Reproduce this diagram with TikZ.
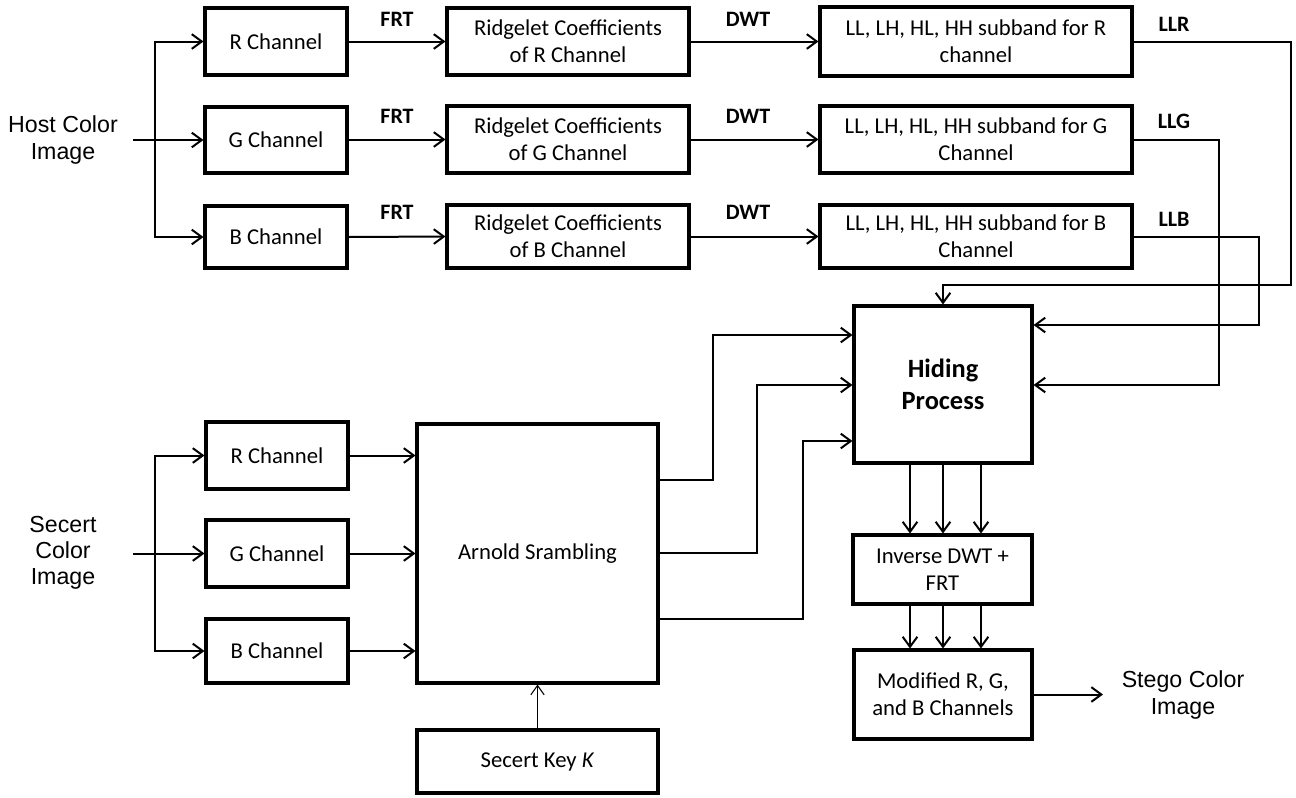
\documentclass[tikz,border=0pt]{standalone}
\usepackage{fontspec}
\setmainfont{Carlito}
\newfontfamily\arialf{Liberation Sans}
\usetikzlibrary{arrows.meta}
\begin{document}
\begin{tikzpicture}[x=0.75pt,y=-0.75pt,
  box/.style={draw,line width=2.3pt,inner sep=0pt,align=center,font=\fontsize{17}{20.25}\selectfont},
  sz/.style 2 args={minimum width=#1*0.75pt,minimum height=#2*0.75pt},
  conn/.style={line width=1.5pt,-{Straight Barb[length=7.5pt,width=11pt,line width=1.5pt]}},
  thin/.style={line width=0.8pt,-{Straight Barb[length=7pt,width=10pt,line width=0.8pt]}},
  lab/.style={font=\bfseries\fontsize{16.5}{18}\selectfont,inner sep=0pt},
  side/.style={align=center,inner sep=0pt,font=\arialf\fontsize{17.4}{20.25}\selectfont}]
\useasboundingbox (0,0) rectangle (1296,797);

% host side
\node[side] (host) at (63,140) {Host Color\\Image};
\node[box,sz={142}{67}] (hr) at (276,41.5) {R Channel};
\node[box,sz={142}{66}] (hg) at (276,140) {G Channel};
\node[box,sz={142}{62}] (hb) at (276,237) {B Channel};
\node[box,sz={242}{67}] (rr) at (568,41.5) {Ridgelet Coefficients\\of R Channel};
\node[box,sz={242}{67}] (rg) at (568,139.5) {Ridgelet Coefficients\\of G Channel};
\node[box,sz={242}{63}] (rb) at (568,236.5) {Ridgelet Coefficients\\of B Channel};
\node[box,sz={312}{69}] (lr) at (976,41.5) {LL, LH, HL, HH subband for R\\channel};
\node[box,sz={312}{67}] (lg) at (976,139.5) {LL, LH, HL, HH subband for G\\Channel};
\node[box,sz={312}{63}] (lb) at (976,236.5) {LL, LH, HL, HH subband for B\\Channel};

\node[lab] (f1) at (397,19.5) {FRT};
\node[lab] (f2) at (397,116) {FRT};
\node[lab] (f3) at (397,212) {FRT};
\node[lab] (d1) at (748,19.5) {DWT};
\node[lab] (d2) at (748,116) {DWT};
\node[lab] (d3) at (748,212) {DWT};
\node[lab] (llr) at (1174,24) {LLR};
\node[lab] (llg) at (1174,121) {LLG};
\node[lab] (llb) at (1174,219) {LLB};

% secret side
\node[side,font=\arialf\fontsize{17.4}{19.5}\selectfont] (sec) at (63,553) {Secert\\Color\\Image};
\node[box,sz={142}{67}] (sr) at (277,455.5) {R Channel};
\node[box,sz={142}{67}] (sg) at (277,553.5) {G Channel};
\node[box,sz={142}{64}] (sb) at (277,651) {B Channel};
\node[box,sz={241}{259}] (arn) at (537.5,553.5) {Arnold Srambling};
\node[box,sz={241}{63}] (key) at (537.5,761.5) {Secert Key \textit{K}};

\node[box,sz={178}{157},font=\bfseries\fontsize{19.8}{24}\selectfont] (hid) at (943,384.5) {Hiding\\Process};
\node[box,sz={179}{69}] (inv) at (942.5,569.5) {Inverse DWT +\\FRT};
\node[box,sz={178}{89}] (mod) at (943,694.5) {Modified R, G,\\and B Channels};
\node[side] (stego) at (1183,695) {Stego Color\\Image};

% host connectors
\coordinate (hin) at (133,140);
\coordinate (hbr) at (155,140);
\draw[conn] (hin) -- (hg.west);
\draw[conn] (hbr) |- (hr.west);
\draw[conn] (hbr) |- (hb.west);
\draw[conn] (hr.east) -- (rr.west);
\draw[conn] (hg.east |- 0,139.5) -- (rg.west);
\draw[conn] (hb.east) -- (rb.west);
\draw[conn] (rr.east) -- (lr.west);
\draw[conn] (rg.east) -- (lg.west);
\draw[conn] (rb.east) -- (lb.west);

\draw[conn] (lr.east) -| (1291,285) -| (hid.north);
\draw[conn] (lg.east) -| (1219,385) -- (hid.east |- 0,385);
\draw[conn] (lb.east) -| (1259,325) -- (hid.east |- 0,325);

% secret connectors
\coordinate (sin) at (133,553.5);
\coordinate (sbr) at (155,553.5);
\draw[conn] (sin) -- (sg.west);
\draw[conn] (sbr) |- (sr.west);
\draw[conn] (sbr) |- (sb.west);
\draw[conn] (sr.east) -- (arn.west |- sr.east);
\draw[conn] (sg.east) -- (arn.west |- sg.east);
\draw[conn] (sb.east) -- (arn.west |- sb.east);
\draw[thin] (key.north) -- (arn.south);

\draw[conn] (arn.east |- 0,480) -- (713,480) |- (hid.west |- 0,335);
\draw[conn] (arn.east |- 0,553) -- (757,553) |- (hid.west |- 0,385);
\draw[conn] (arn.east |- 0,619) -- (803,619) |- (hid.west |- 0,441);

\foreach \xx in {910,943,981}{
  \draw[conn] (hid.south -| \xx,0) -- (inv.north -| \xx,0);
  \draw[conn] (inv.south -| \xx,0) -- (mod.north -| \xx,0);
}
\coordinate (sto) at (1103,694.5);
\draw[conn] (mod.east) -- (sto);
\end{tikzpicture}
\end{document}
